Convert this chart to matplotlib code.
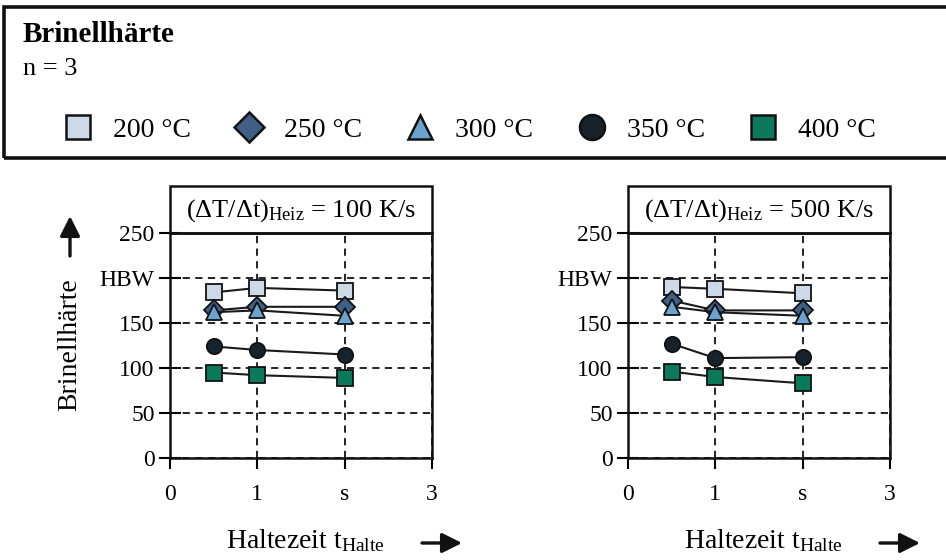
import matplotlib
matplotlib.use('Agg')
from matplotlib import pyplot as plt
from matplotlib.patches import Rectangle, FancyArrowPatch
from matplotlib.lines import Line2D

plt.rcParams['font.family'] = 'Liberation Serif'
plt.rcParams['mathtext.fontset'] = 'custom'
plt.rcParams['mathtext.rm'] = 'Liberation Serif'
plt.rcParams['mathtext.it'] = 'Liberation Serif:italic'

# Haltezeit in s
haltezeit = [0.5, 1, 2]
temps = ['200 °C', '250 °C', '300 °C', '350 °C', '400 °C']
# Brinellhaerte je Temperatur (Zeilen) und Haltezeit (Spalten)
hbw_100 = [[184, 189, 186],
           [164, 168, 168],
           [162, 164, 158],
           [124, 120, 115],
           [95, 92, 89]]
hbw_500 = [[190, 188, 183],
           [175, 164, 164],
           [168, 162, 158],
           [127, 111, 112],
           [96, 90, 83]]
rates = ['100', '500']

xticks = [0, 1, 2, 3]
xlabels = ['0', '1', 's', '3']
yticks = [0, 50, 100, 150, 200, 250]
ylabels = ['0', '50', '100', '150', 'HBW', '250']

markers = ['s', 'D', '^', 'o', 's']
colors = ['#cdd9e6', '#3f5f86', '#6aa3cf', '#16222c', '#0b7a5a']
msizes = [11, 10, 11, 11, 11]      # im Diagramm
lsizes = [17, 15, 17, 18, 17]      # in der Legende

W, H = 946, 560
fig = plt.figure(figsize=(W/100, H/100), dpi=100)

def fx(px):
    return px / W

def fy(py):
    return 1 - py / H

def arrow(p0, p1):
    fig.add_artist(FancyArrowPatch((fx(p0[0]), fy(p0[1])), (fx(p1[0]), fy(p1[1])),
                                   transform=fig.transFigure,
                                   arrowstyle='-|>,head_length=12,head_width=6',
                                   lw=2.4, color='#111111', shrinkA=0, shrinkB=0))

# header box (right edge runs out of the picture)
fig.add_artist(Rectangle((fx(4), fy(158)), fx(960), 151/H, transform=fig.transFigure,
                         fill=False, lw=2.6, ec='#111111'))
fig.text(fx(23), fy(34), 'Brinellhärte', fontsize=21, fontweight='bold', va='center')
fig.text(fx(23), fy(69), 'n = 3', fontsize=19, va='center')

handles = [Line2D([], [], ls='none', marker=m, ms=ms, mfc=c, mec='#111111', mew=1.8)
           for m, c, ms in zip(markers, colors, lsizes)]
fig.legend(handles, temps, ncol=5, loc='center left', frameon=False, borderpad=0,
           bbox_to_anchor=(fx(47), fy(130)), fontsize=20, handlelength=1.2,
           handletextpad=0.66, columnspacing=1.5)

panels = [(170, hbw_100, rates[0]), (628, hbw_500, rates[1])]
for left, data, rate in panels:
    ax = fig.add_axes([fx(left), fy(458), 262/W, 225/H])
    ax.set_xlim(0, 3)
    ax.set_ylim(0, 250)
    for vals, m, c, ms in zip(data, markers, colors, msizes):
        ax.plot(haltezeit, vals, color='#1a1a1a', lw=1.5, marker=m, ms=ms,
                mfc=c, mec='#111111', mew=1.3, zorder=3, clip_on=False)
    ax.set_xticks(xticks, xlabels)
    ax.set_yticks(yticks, ylabels)
    ax.tick_params(axis='x', direction='out', length=8, width=1.5, labelsize=17, pad=11)
    ax.tick_params(axis='y', direction='inout', length=16, width=1.5, labelsize=17, pad=3)
    ax.grid(True, ls=(0, (4, 3)), color='#111111', lw=1.3)
    for s in ax.spines.values():
        s.set_linewidth(1.8)
        s.set_color('#111111')
    # title box
    ax.add_patch(Rectangle((0, 1), 1, 47/225, transform=ax.transAxes, fill=False,
                           lw=1.8, ec='#111111', clip_on=False))
    ax.text(0.5, 1 + 22/225, r'($\Delta$T/$\Delta$t)$_{\mathrm{Heiz}}$ = ' + rate + ' K/s',
            transform=ax.transAxes, ha='center', va='center', fontsize=19)
    # x label and arrow
    fig.text(fx(left + 135), fy(548), r'Haltezeit t$_{\mathrm{Halte}}$', fontsize=20,
             ha='center', va='baseline')
    arrow((left + 252, 543), (left + 292, 543))

fig.text(fx(70), fy(345), 'Brinellhärte', fontsize=20, rotation=90, ha='center', va='center')
arrow((70, 256), (70, 216))

fig.savefig('out.png', dpi=100)
